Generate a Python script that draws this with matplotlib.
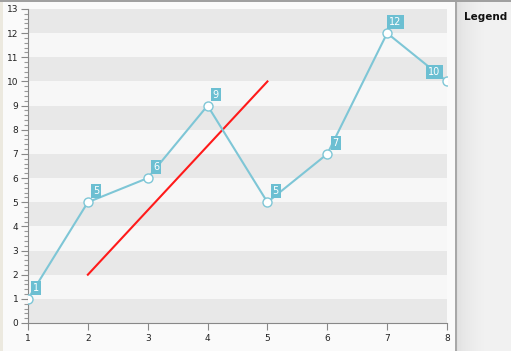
import numpy as np
import matplotlib.pyplot as plt
from matplotlib.patches import Rectangle
from matplotlib.ticker import MultipleLocator

# data
x_vals = [1, 2, 3, 4, 5, 6, 7, 8]
y_vals = [1, 5, 6, 9, 5, 7, 12, 10]
red_x = [2, 5]
red_y = [2, 10]

line_col = '#7ec6d6'
box_col = '#6cbfd2'

fig = plt.figure(figsize=(5.11, 3.51), dpi=100)
fig.patch.set_facecolor('#fafafa')

# left beige strip and top border
fig.patches.append(Rectangle((0, 0), 3 / 511, 1, transform=fig.transFigure,
                             facecolor='#ece9df', edgecolor='none'))
fig.patches.append(Rectangle((0, 1 - 2 / 351), 1, 2 / 351, transform=fig.transFigure,
                             facecolor='#a0a0a0', edgecolor='none', zorder=5))

# legend panel on the right, with a soft gradient
lax = fig.add_axes([455 / 511, 0, 56 / 511, 1 - 2 / 351])
grad = np.linspace(0, 1, 56)
shade = np.clip(0.86 + 0.085 * np.sqrt(grad * 1.8), 0, 0.945)
lax.imshow(np.tile(shade, (2, 1)), cmap='gray', vmin=0, vmax=1,
           aspect='auto', extent=[0, 1, 0, 1])
lax.axvline(0.01, color='#a8a8a8', lw=1.5)
lax.set_xlim(0, 1)
lax.set_ylim(0, 1)
lax.axis('off')
fig.text(464 / 511, 1 - 17 / 351, 'Legend', fontsize=7.5, fontweight='bold',
         va='center', ha='left', color='#111111')

ax = fig.add_axes([28 / 511, 28 / 351, 419 / 511, 314 / 351])
ax.set_facecolor('#f7f7f7')
ax.set_xlim(1, 8)
ax.set_ylim(0, 13)

# alternating bands
for b in range(0, 13, 2):
    ax.axhspan(b, b + 1, color='#e8e8e8', lw=0, zorder=0)

ax.plot(x_vals, y_vals, color=line_col, lw=1.5, marker='o', ms=6.5,
        mfc='white', mec=line_col, mew=1, zorder=3)
ax.plot(red_x, red_y, color='#ff1a1a', lw=1.5, zorder=2)

for i, (xv, yv) in enumerate(zip(x_vals, y_vals)):
    off = (6, 8) if i < len(x_vals) - 1 else (-9, 6.5)
    ax.annotate(str(yv), (xv, yv), xytext=off, textcoords='offset points',
                fontsize=7, color='white', ha='center', va='center',
                bbox=dict(boxstyle='square,pad=0.2', fc=box_col, ec='none'),
                zorder=4, annotation_clip=False)

for s in ['top', 'right']:
    ax.spines[s].set_visible(False)
for s in ['left', 'bottom']:
    ax.spines[s].set_color('#888888')

ax.xaxis.set_major_locator(MultipleLocator(1))
ax.yaxis.set_major_locator(MultipleLocator(1))
ax.yaxis.set_minor_locator(MultipleLocator(0.2))
ax.tick_params(axis='both', which='major', labelsize=6.5, colors='#888888',
               labelcolor='#222222', length=5, width=0.8)
ax.tick_params(axis='y', which='minor', colors='#999999', length=3, width=0.8)
ax.tick_params(axis='x', which='major', pad=3)
ax.tick_params(axis='y', which='major', pad=2)

fig.savefig('out.png', dpi=100, facecolor=fig.get_facecolor())
